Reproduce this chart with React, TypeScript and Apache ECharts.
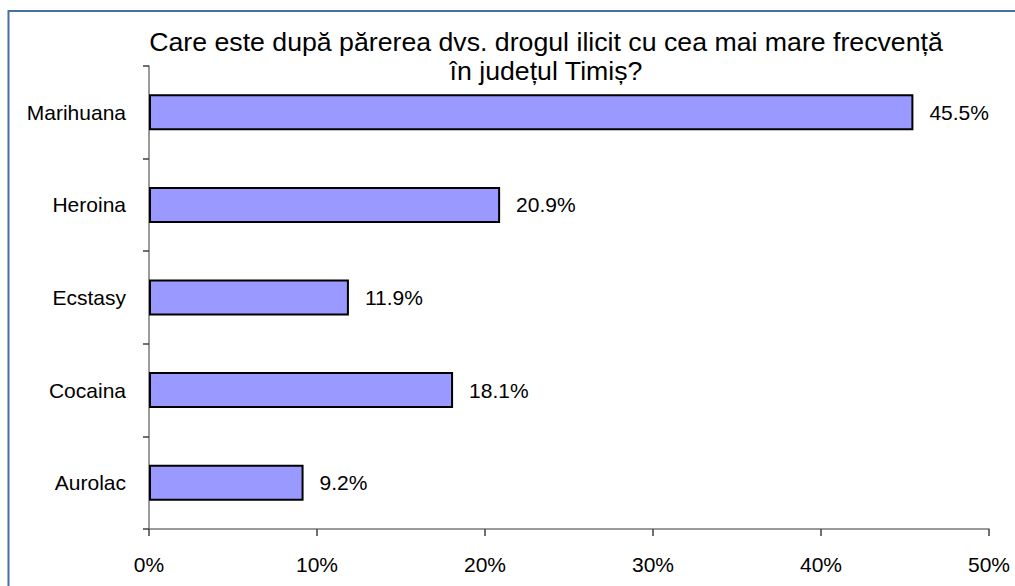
import React, { useEffect, useRef } from "react";
import * as echarts from "echarts";

const categories = ["Marihuana", "Heroina", "Ecstasy", "Cocaina", "Aurolac"];
const values = [45.5, 20.9, 11.9, 18.1, 9.2];
const titleText = "Care este după părerea dvs. drogul ilicit cu cea mai mare frecvență\nîn județul Timiș?";

const FONT = '"Liberation Sans", Arial, sans-serif';

export default function App() {
  const ref = useRef<HTMLDivElement>(null);
  useEffect(() => {
    if (!ref.current) return;
    const chart = echarts.init(ref.current, null, { renderer: "svg" });
    chart.setOption({
      animation: false,
      backgroundColor: "#ffffff",
      title: {
        text: titleText,
        left: 546,
        top: 27,
        padding: 0,
        textAlign: "center",
        textStyle: {
          fontFamily: FONT,
          fontSize: 26.7,
          fontWeight: "normal",
          color: "#000000",
          lineHeight: 29,
        },
      },
      graphic: [
        {
          type: "rect",
          shape: { x: 8.5, y: 11, width: 1200, height: 1000 },
          style: { fill: "none", stroke: "#4a6fa5", lineWidth: 2 },
          silent: true,
          z: -1,
        },
      ],
      grid: { left: 149, right: 26, top: 66, bottom: 57, containLabel: false },
      xAxis: {
        type: "value",
        min: 0,
        max: 50,
        interval: 10,
        splitLine: { show: false },
        axisLine: { show: true, lineStyle: { color: "#7a7a7a", width: 1.5 } },
        axisTick: { show: true, length: 7, lineStyle: { color: "#404040", width: 1.5 } },
        axisLabel: {
          formatter: "{value}%",
          fontFamily: FONT,
          fontSize: 21,
          color: "#000000",
          margin: 25,
        },
      },
      yAxis: {
        type: "category",
        data: categories,
        inverse: true,
        axisLine: { show: true, lineStyle: { color: "#7a7a7a", width: 1.5 } },
        axisTick: { show: true, length: 6, lineStyle: { color: "#404040", width: 1.5 } },
        axisLabel: {
          fontFamily: FONT,
          fontSize: 21,
          color: "#000000",
          margin: 23,
        },
        splitLine: { show: false },
      },
      series: [
        {
          type: "bar",
          data: values,
          barWidth: 36,
          itemStyle: { color: "#9999ff", borderColor: "#000000", borderWidth: 2 },
          label: {
            show: true,
            position: "right",
            distance: 16,
            formatter: (p: any) => p.value.toFixed(1) + "%",
            fontFamily: FONT,
            fontSize: 21,
            color: "#000000",
          },
        },
      ],
    });
    return () => chart.dispose();
  }, []);
  return (
    <div
      ref={ref}
      style={{ position: "fixed", left: 0, top: 0, width: 1015, height: 586 }}
    />
  );
}
